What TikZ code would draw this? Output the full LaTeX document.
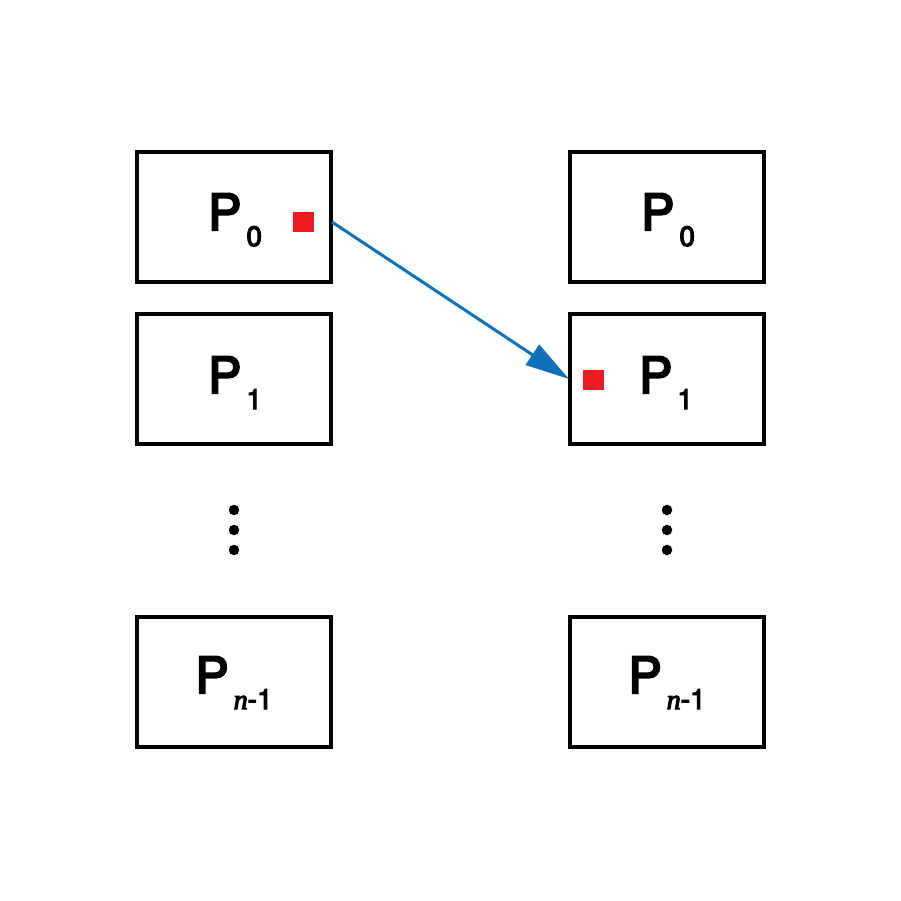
\documentclass[tikz,border=0pt]{standalone}
\usepackage{fontspec}
\newfontfamily\hvmed{TeX Gyre Heros}[UprightFeatures={FakeBold=4}]
\newfontfamily\tnr{Liberation Serif}[ItalicFeatures={FakeBold=4}]
\setmainfont{TeX Gyre Heros}
\usetikzlibrary{arrows.meta}
\definecolor{boxred}{HTML}{ED1C24}
\definecolor{arrblue}{HTML}{1071BA}
\tikzset{
  pbox/.style={draw=black, line width=3.2pt, minimum width=194pt, minimum height=130pt, inner sep=0pt},
  ptext/.style={inner sep=0pt, anchor=base, font=\hvmed},
  redsq/.style={fill=boxred, minimum width=21pt, minimum height=20pt, inner sep=0pt},
  vdot/.style={circle, fill=black, minimum size=10.5pt, inner sep=0pt},
  msgarrow/.style={draw=arrblue, line width=3pt, -{Triangle[length=44pt,width=24pt]}}
}
\newcommand{\Psub}[1]{{\fontsize{50}{50}\selectfont P}\hspace{5pt}\raisebox{-16pt}{\fontsize{28}{28}\selectfont #1}}
\begin{document}
\begin{tikzpicture}[x=1pt,y=-1pt]
\useasboundingbox (0,0) rectangle (901,901);
\fill[white] (0,0) rectangle (901,901);
% boxes
\node[pbox] (l0) at (234,217) {};
\node[pbox] (l1) at (234,379) {};
\node[pbox] (ln) at (234,682) {};
\node[pbox] (r0) at (667,217) {};
\node[pbox] (r1) at (667,379) {};
\node[pbox] (rn) at (667,682) {};
% labels
\node[ptext] (tl0) at (235,230) {\Psub{0}};
\node[ptext] (tl1) at (235,393) {\Psub{1}};
\node[ptext] (tln) at (234,693) {\Psub{{\tnr\itshape n}-1}};
\node[ptext] (tr0) at (668,230) {\Psub{0}};
\node[ptext] (tr1) at (666,393) {\Psub{1}};
\node[ptext] (trn) at (667,693) {\Psub{{\tnr\itshape n}-1}};
% red squares
\node[redsq] (sq0) at (303.5,222) {};
\node[redsq] (sq1) at (593.5,380) {};
% dots
\node[vdot] (ld1) at (234,510) {};
\node[vdot] (ld2) at (234,530) {};
\node[vdot] (ld3) at (234,550) {};
\node[vdot] (rd1) at (667,510) {};
\node[vdot] (rd2) at (667,530) {};
\node[vdot] (rd3) at (667,550) {};
% arrow
\coordinate (as) at (332,222);
\coordinate (ae) at (569,379);
\draw[msgarrow] (as) -- (ae);
\end{tikzpicture}
\end{document}
